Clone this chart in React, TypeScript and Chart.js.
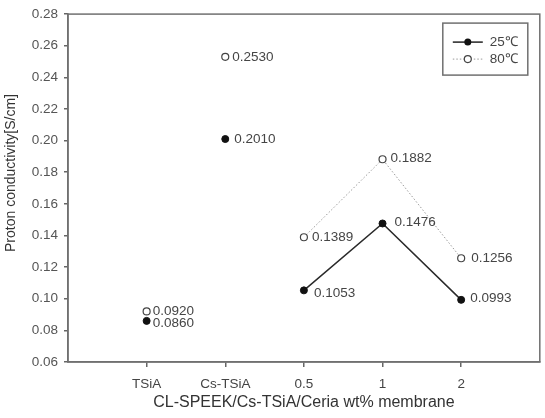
import React, { useEffect, useRef } from 'react';
import { Chart, registerables } from 'chart.js';

Chart.register(...registerables);

const FONT = "'Liberation Sans', Arial, Helvetica, sans-serif";

// ---- data ----
const categories = ['TSiA', 'Cs-TSiA', '0.5', '1', '2'];
const values25 = [0.086, 0.201, 0.1053, 0.1476, 0.0993];
const values80 = [0.092, 0.253, 0.1389, 0.1882, 0.1256];
const seriesNames = ['25℃', '80℃'];
const yTicks = [0.06, 0.08, 0.1, 0.12, 0.14, 0.16, 0.18, 0.2, 0.22, 0.24, 0.26, 0.28];
const connectedFrom = 2; // lines only join 0.5, 1, 2
const xTitle = 'CL-SPEEK/Cs-TSiA/Ceria wt% membrane';
const yTitle = 'Proton conductivity[S/cm]';

// ---- label offsets (style, relative to the point) ----
const labelOffsets25 = [[6, 2], [9, 0], [10, 3], [12, -1], [9, -2]];
const labelOffsets80 = [[6, 0], [7, 0], [8, 0], [8, -1], [10, 0]];

const decor = {
  id: 'decor',
  beforeDatasetsDraw(chart: any) {
    const { ctx, chartArea: a } = chart;
    ctx.save();
    ctx.strokeStyle = '#707070';
    ctx.lineWidth = 1.5;
    ctx.strokeRect(a.left, a.top, a.right - a.left, a.bottom - a.top);
    ctx.restore();
  },
  afterDatasetsDraw(chart: any) {
    const { ctx, chartArea: a } = chart;
    ctx.save();
    ctx.font = `13.5px ${FONT}`;
    ctx.fillStyle = '#454545';
    ctx.textBaseline = 'middle';
    ctx.textAlign = 'left';
    chart.data.datasets.forEach((ds: any, di: number) => {
      const meta = chart.getDatasetMeta(di);
      const offs = di === 0 ? labelOffsets25 : labelOffsets80;
      meta.data.forEach((pt: any, i: number) => {
        ctx.fillText(ds.data[i].y.toFixed(4), pt.x + offs[i][0], pt.y + offs[i][1]);
      });
    });

    // legend
    const bx = a.right - 97;
    const by = a.top + 9;
    ctx.strokeStyle = '#707070';
    ctx.lineWidth = 1.5;
    ctx.strokeRect(bx, by, 85, 52);
    const rows = [by + 19, by + 36];
    rows.forEach((ry, k) => {
      ctx.save();
      ctx.beginPath();
      ctx.moveTo(bx + 10, ry);
      ctx.lineTo(bx + 40, ry);
      if (k === 0) {
        ctx.strokeStyle = '#222';
        ctx.lineWidth = 1.5;
        ctx.setLineDash([]);
      } else {
        ctx.strokeStyle = '#9a9a9a';
        ctx.lineWidth = 1;
        ctx.setLineDash([1.5, 2]);
      }
      ctx.stroke();
      ctx.setLineDash([]);
      ctx.beginPath();
      ctx.arc(bx + 25, ry, 3.5, 0, Math.PI * 2);
      if (k === 0) {
        ctx.fillStyle = '#111';
        ctx.fill();
      } else {
        ctx.fillStyle = '#fff';
        ctx.fill();
        ctx.strokeStyle = '#444';
        ctx.lineWidth = 1.2;
        ctx.stroke();
      }
      ctx.restore();
      ctx.fillStyle = '#454545';
      ctx.font = `13.5px ${FONT}`;
      ctx.fillText(seriesNames[k], bx + 47, ry);
    });

    // y title
    ctx.translate(11, 173);
    ctx.rotate(-Math.PI / 2);
    ctx.textAlign = 'center';
    ctx.fillStyle = '#333';
    ctx.font = `14px ${FONT}`;
    ctx.fillText(yTitle, 0, 0);
    ctx.restore();
  },
};

export default function App() {
  const ref = useRef<HTMLCanvasElement | null>(null);

  useEffect(() => {
    if (!ref.current) return;
    const toPts = (vals: number[]) => vals.map((v, i) => ({ x: i + 1, y: v }));
    const seg = {
      borderColor: (c: any) => (c.p0DataIndex < connectedFrom ? 'rgba(0,0,0,0)' : undefined),
    };
    const chart = new Chart(ref.current, {
      type: 'line',
      data: {
        datasets: [
          {
            label: seriesNames[0],
            data: toPts(values25),
            borderColor: '#2a2a2a',
            borderWidth: 1.5,
            pointRadius: 3.5,
            pointBackgroundColor: '#111',
            pointBorderColor: '#111',
            pointBorderWidth: 1,
            segment: seg,
          },
          {
            label: seriesNames[1],
            data: toPts(values80),
            borderColor: '#9a9a9a',
            borderWidth: 1,
            borderDash: [1.5, 2],
            pointRadius: 3.5,
            pointBackgroundColor: '#fff',
            pointBorderColor: '#444',
            pointBorderWidth: 1.2,
            segment: seg,
          },
        ],
      },
      options: {
        animation: false,
        responsive: true,
        maintainAspectRatio: false,
        layout: { padding: { top: 12, right: 3, left: 0, bottom: 0 } },
        plugins: { legend: { display: false }, tooltip: { enabled: false } },
        scales: {
          x: {
            type: 'linear',
            min: 0,
            max: 6,
            afterBuildTicks: (s: any) => {
              s.ticks = categories.map((_, i) => ({ value: i + 1 }));
            },
            afterFit: (s: any) => {
              s.height = 56;
            },
            ticks: {
              callback: (v: any) => categories[Number(v) - 1] ?? '',
              font: { family: FONT, size: 13.5 },
              color: '#444',
              padding: 9,
              autoSkip: false,
              maxRotation: 0,
            },
            grid: { drawOnChartArea: false, tickLength: 5, color: '#666', lineWidth: 1.5 },
            border: { color: '#707070', width: 1.5 },
            title: {
              display: true,
              text: xTitle,
              font: { family: FONT, size: 16 },
              color: '#333',
              padding: { top: 0, bottom: 6 },
            },
          },
          y: {
            type: 'linear',
            min: 0.06,
            max: 0.28,
            afterBuildTicks: (s: any) => {
              s.ticks = yTicks.map((v) => ({ value: v }));
            },
            afterFit: (s: any) => {
              s.width = 68;
            },
            ticks: {
              callback: (v: any) => Number(v).toFixed(2),
              font: { family: FONT, size: 13.5 },
              color: '#555',
              padding: 6,
            },
            grid: { drawOnChartArea: false, tickLength: 4, color: '#666', lineWidth: 1.5 },
            border: { color: '#707070', width: 1.5 },
          },
        },
      },
      plugins: [decor],
    } as any);
    return () => chart.destroy();
  }, []);

  return (
    <div style={{ position: 'fixed', left: 0, top: 0, width: 545, height: 418, background: '#fff' }}>
      <canvas ref={ref} />
    </div>
  );
}
